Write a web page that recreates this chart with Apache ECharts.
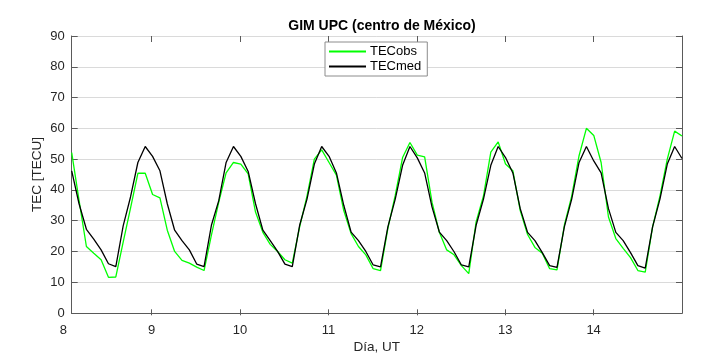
<!DOCTYPE html>
<html>
<head>
<meta charset="utf-8">
<script src="https://cdn.jsdelivr.net/npm/echarts@6/dist/echarts.min.js"></script>
<style>
html,body{margin:0;padding:0;background:#fff;}
#c{width:718px;height:359px;}
</style>
</head>
<body>
<div id="c"></div>
<script>
// Time axis: 2-hourly samples from day 8 02:00 UT to day 15 00:00 UT
const tStart = 8 + 2 / 24;
const tStep = 2 / 24;
const xTickLabels = [8, 9, 10, 11, 12, 13, 14];
const xTicks = [9, 10, 11, 12, 13, 14];

const tecObs = [
  52.1, 36.6, 21.6, 19.4, 17.3, 11.6, 11.7, 23.0, 34.1, 45.4, 45.4, 38.5,
  37.4, 26.9, 20.0, 17.1, 16.2, 14.9, 13.8, 25.3, 36.0, 45.5, 48.9, 48.4,
  45.2, 32.8, 26.2, 22.3, 20.0, 17.3, 16.2, 28.0, 38.0, 50.0, 53.0, 48.9,
  44.8, 33.3, 25.8, 21.6, 18.9, 14.4, 13.8, 27.5, 38.2, 50.5, 55.4, 51.3,
  50.7, 36.0, 26.2, 20.5, 18.9, 15.4, 12.8, 29.6, 38.0, 52.3, 55.6, 48.4,
  46.2, 33.3, 25.5, 21.3, 19.4, 14.4, 14.0, 28.5, 38.0, 51.1, 60.0, 57.7,
  48.9, 31.2, 24.2, 21.0, 18.0, 13.8, 13.3, 28.0, 38.0, 50.0, 59.1, 57.5
];
const tecMed = [
  46.2, 35.5, 27.2, 24.0, 20.5, 16.0, 15.1, 28.3, 37.7, 48.9, 54.1, 50.9,
  46.2, 35.5, 26.9, 23.5, 20.5, 15.9, 15.1, 28.5, 36.5, 48.9, 54.1, 50.9,
  46.0, 35.5, 26.9, 23.5, 20.0, 15.9, 15.1, 28.5, 37.0, 48.4, 54.1, 50.9,
  45.5, 35.0, 26.3, 23.5, 20.0, 15.6, 15.0, 28.0, 37.0, 48.0, 54.1, 50.4,
  45.5, 34.5, 26.3, 23.5, 19.9, 15.6, 15.0, 28.5, 37.0, 48.0, 54.1, 50.5,
  45.5, 33.9, 26.2, 23.5, 19.6, 15.4, 14.8, 28.0, 37.0, 48.9, 54.1, 49.4,
  45.5, 33.9, 26.2, 23.5, 19.6, 15.4, 14.6, 28.0, 37.0, 48.4, 54.1, 50.2
];

const times = tecObs.map((_, i) => tStart + i * tStep);
const obsData = times.map((t, i) => [t, tecObs[i]]);
const medData = times.map((t, i) => [t, tecMed[i]]);

const FONT = '"Liberation Sans", Arial, Helvetica, sans-serif';
const AX = '#5a5a5a';
const xMin = tStart, xMax = 15;

const chart = echarts.init(document.getElementById('c'), null, {renderer: 'canvas'});
chart.setOption({
  backgroundColor: '#ffffff',
  animation: false,
  title: {
    text: 'GIM UPC (centro de México)',
    left: 377, top: 14, textAlign: 'center',
    textStyle: {fontFamily: FONT, fontSize: 14, fontWeight: 'bold', color: '#000'}
  },
  legend: {
    left: 325, top: 42, orient: 'vertical',
    data: ['TECobs', 'TECmed'],
    icon: 'rect', itemWidth: 37, itemHeight: 2, itemGap: 2,
    padding: [3, 6, 3, 4],
    borderColor: '#8c8c8c', borderWidth: 1, backgroundColor: '#fff',
    textStyle: {fontFamily: FONT, fontSize: 13, color: '#000', padding: [0, 0, 0, -1]}
  },
  grid: [
    {left: 71.7, right: 36, top: 36, bottom: 43.7},
    {left: 63.3, right: 36, top: 36, bottom: 43.7}
  ],
  xAxis: [
    {
      gridIndex: 0, type: 'value', min: xMin, max: xMax, position: 'bottom',
      axisLine: {show: true, lineStyle: {color: AX, width: 1}},
      axisTick: {show: false}, axisLabel: {show: false}, splitLine: {show: false},
      name: 'Día, UT', nameLocation: 'middle', nameGap: 27, nameMoveOverlap: false,
      nameTextStyle: {fontFamily: FONT, fontSize: 13.5, color: '#262626'}
    },
    {
      gridIndex: 0, type: 'value', min: xMin, max: xMax, position: 'top',
      axisLine: {show: true, lineStyle: {color: AX, width: 1}},
      axisTick: {show: false}, axisLabel: {show: false}, splitLine: {show: false}
    },
    {
      gridIndex: 1, type: 'value', min: 8, max: 15, interval: 1, position: 'bottom',
      axisLine: {show: false},
      axisTick: {show: true, inside: true, length: 6, customValues: xTicks, lineStyle: {color: AX}},
      axisLabel: {show: true, customValues: xTickLabels, margin: 9,
        fontFamily: FONT, fontSize: 13, color: '#262626'},
      splitLine: {show: false}
    },
    {
      gridIndex: 1, type: 'value', min: 8, max: 15, interval: 1, position: 'top',
      axisLine: {show: false},
      axisTick: {show: true, inside: true, length: 6, customValues: xTicks, lineStyle: {color: AX}},
      axisLabel: {show: false}, splitLine: {show: false}
    }
  ],
  yAxis: [
    {
      gridIndex: 0, type: 'value', min: 0, max: 90, interval: 10, position: 'left',
      axisLine: {show: true, lineStyle: {color: AX, width: 1}},
      axisTick: {show: true, inside: true, length: 6, lineStyle: {color: AX}},
      axisLabel: {show: true, margin: 7, fontFamily: FONT, fontSize: 13, color: '#262626'},
      splitLine: {show: true, lineStyle: {color: '#dadada', width: 1}},
      name: 'TEC [TECU]', nameLocation: 'middle', nameGap: 27, nameMoveOverlap: false,
      nameTextStyle: {fontFamily: FONT, fontSize: 13.5, color: '#262626'}
    },
    {
      gridIndex: 0, type: 'value', min: 0, max: 90, interval: 10, position: 'right',
      axisLine: {show: true, lineStyle: {color: AX, width: 1}},
      axisTick: {show: true, inside: true, length: 6, lineStyle: {color: AX}},
      axisLabel: {show: false}, splitLine: {show: false}
    },
    {
      gridIndex: 1, type: 'value', min: 0, max: 90, show: false
    }
  ],
  series: [
    {
      name: 'TECobs', type: 'line', xAxisIndex: 0, yAxisIndex: 0,
      data: obsData, showSymbol: false, symbol: 'none',
      lineStyle: {color: '#00ff00', width: 1.3}, itemStyle: {color: '#00ff00'}
    },
    {
      name: 'TECmed', type: 'line', xAxisIndex: 0, yAxisIndex: 0,
      data: medData, showSymbol: false, symbol: 'none',
      lineStyle: {color: '#000000', width: 1.3}, itemStyle: {color: '#000000'}
    }
  ]
});
</script>
</body>
</html>
